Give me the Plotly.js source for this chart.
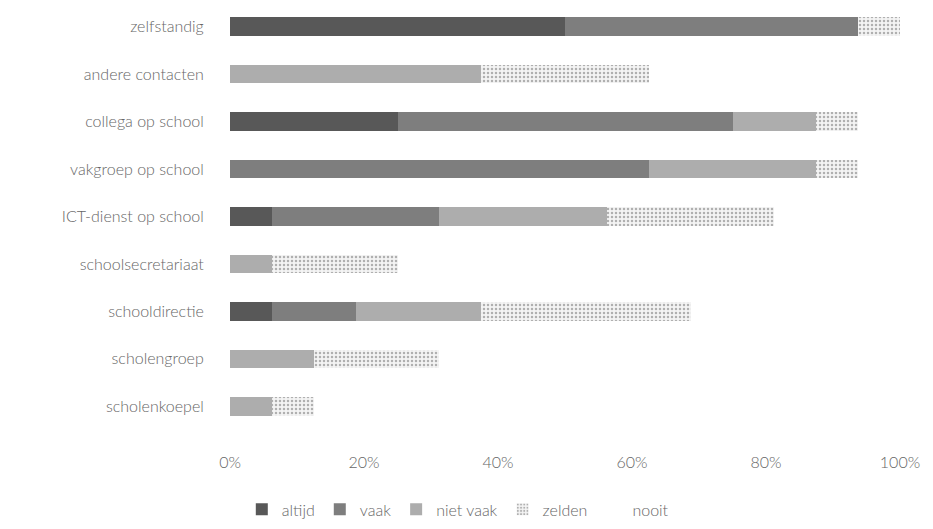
<!DOCTYPE html>
<html>
<head>
<meta charset="utf-8">
<script src="https://cdn.plot.ly/plotly-3.0.1.min.js"></script>
<style>
  html, body { margin: 0; padding: 0; background: #ffffff; }
  #chart { width: 933px; height: 529px; }
</style>
</head>
<body>
<div id="chart"></div>
<script>
// Wie helpt bij ICT-vragen? Aandeel antwoorden per bron (in %), van boven naar onder.
const categories = [
  'zelfstandig',
  'andere contacten',
  'collega op school',
  'vakgroep op school',
  'ICT-dienst op school',
  'schoolsecretariaat',
  'schooldirectie',
  'scholengroep',
  'scholenkoepel'
];

const seriesNames = ['altijd', 'vaak', 'niet vaak', 'zelden', 'nooit'];

const altijd   = [50,    0,     25,    0,     6.25,  0,     6.25,  0,     0];
const vaak     = [43.75, 0,     50,    62.5,  25,    0,     12.5,  0,     0];
const nietVaak = [0,     37.5,  12.5,  25,    25,    6.25,  18.75, 12.5,  6.25];
const zelden   = [6.25,  25,    6.25,  6.25,  25,    18.75, 31.25, 18.75, 6.25];
const nooit    = [0,     37.5,  6.25,  6.25,  18.75, 75,    31.25, 68.75, 87.5];

const xTickValues = [0, 20, 40, 60, 80, 100];
const xTickLabels = ['0%', '20%', '40%', '60%', '80%', '100%'];

const seriesValues = [altijd, vaak, nietVaak, zelden, nooit];
const fills = ['#585858', '#7e7e7e', '#adadad', '#ececec', '#ffffff'];

const traces = seriesNames.map((name, i) => {
  const marker = { color: fills[i], line: { width: 0 } };
  if (name === 'zelden') {
    marker.pattern = { shape: '.', fgcolor: '#b0b0b0', bgcolor: '#f4f4f4', size: 4, solidity: 0.3 };
  }
  return {
    type: 'bar',
    orientation: 'h',
    name: name,
    y: categories,
    x: seriesValues[i],
    marker: marker,
    width: 0.39,
    hoverinfo: 'name+x'
  };
});

const textColor = '#666666';
const fontFamily = 'Lato, "Open Sans", sans-serif';
const labelFont = { family: fontFamily, size: 16, color: textColor, weight: 300 };

const layout = {
  width: 933,
  height: 529,
  barmode: 'stack',
  paper_bgcolor: '#ffffff',
  plot_bgcolor: '#ffffff',
  font: labelFont,
  margin: { l: 230, r: 33, t: 3, b: 96 },
  showlegend: true,
  legend: {
    orientation: 'h',
    x: 0.34,
    xanchor: 'center',
    y: -0.186,
    yanchor: 'middle',
    font: labelFont,
    itemwidth: 30,
    traceorder: 'normal'
  },
  xaxis: {
    range: [0, 100],
    tickvals: xTickValues,
    ticktext: xTickLabels,
    showgrid: false,
    zeroline: false,
    showline: false,
    ticks: 'outside',
    ticklen: 18,
    tickcolor: 'rgba(0,0,0,0)',
    tickfont: labelFont,
    fixedrange: true
  },
  yaxis: {
    type: 'category',
    autorange: 'reversed',
    showgrid: false,
    zeroline: false,
    showline: false,
    ticks: 'outside',
    ticklen: 22,
    tickcolor: 'rgba(0,0,0,0)',
    tickfont: labelFont,
    fixedrange: true
  }
};

Plotly.newPlot('chart', traces, layout, { displayModeBar: false, staticPlot: true });
</script>
</body>
</html>
